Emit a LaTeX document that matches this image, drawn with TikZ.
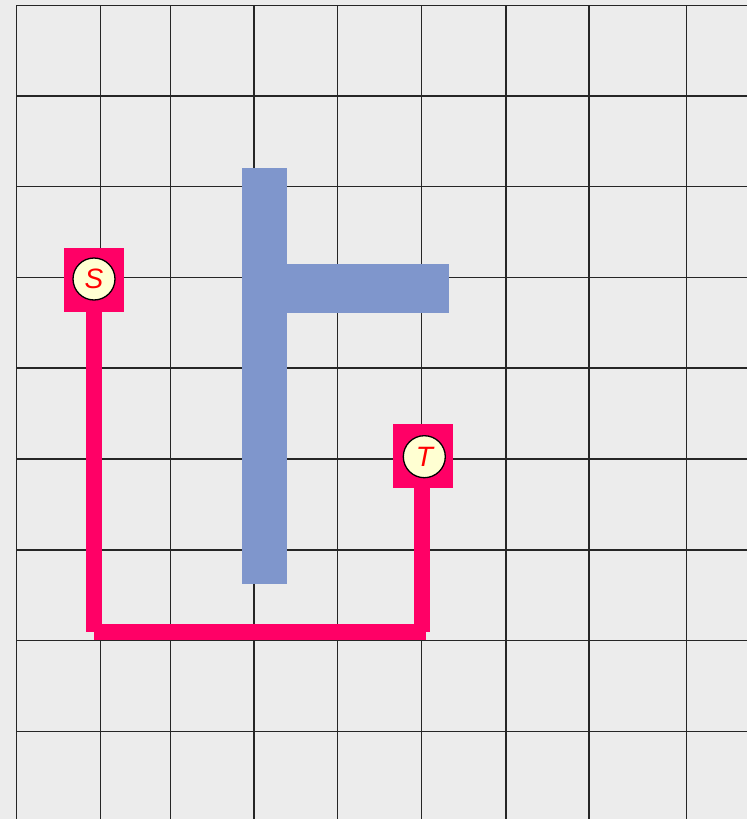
\documentclass[tikz,border=0pt]{standalone}
\usepackage{fontspec}
\setmainfont{Liberation Sans}
\begin{document}
\begin{tikzpicture}[x=1pt,y=-1pt,
  gridline/.style={black!85,line width=1.3pt},
  wall/.style={fill=wallblue,draw=none},
  endbox/.style={rectangle,fill=pathred,draw=none,minimum width=60pt,minimum height=64pt,inner sep=0pt},
  endcirc/.style={circle,fill=circfill,draw=black,line width=1.3pt,minimum size=42pt,inner sep=0pt,text=red,font=\fontsize{28}{28}\selectfont\itshape},
  route/.style={pathred,line width=16pt}]
\definecolor{bg}{HTML}{ECECEC}
\definecolor{pathred}{HTML}{FF0066}
\definecolor{wallblue}{HTML}{7F96CC}
\definecolor{circfill}{HTML}{FFFFD2}
\useasboundingbox (0,0) rectangle (747,819);
\fill[bg] (0,0) rectangle (747,819);
\begin{scope}
\clip (0,0) rectangle (747,819);
\foreach \x in {16.7,100.3,170.5,254,337.7,421.7,506,589,686.7}
  \draw[gridline] (\x,5.3) -- (\x,819);
\foreach \y in {5.3,96,186.7,277.5,368,459,550,640.7,731.3}
  \draw[gridline] (16.7,\y) -- (747,\y);
\end{scope}
% walls
\fill[wall] (242,168) rectangle (287,584);
\fill[wall] (287,264) rectangle (449,313);
% route
\node[endbox] (Sbox) at (94,280) {};
\node[endbox] (Tbox) at (423,456) {};
\coordinate (b1) at (94,632);
\coordinate (b2) at (422,632);
\coordinate (b2e) at (426,632);
\draw[route] (Sbox.south) -- (b1);
\draw[route] (b1) -- (b2e);
\draw[route] (Tbox.south -| b2) -- (b2);
\node[endcirc] (S) at (94,279) {S};
\node[endcirc] (T) at (424.3,456.7) {T};
\end{tikzpicture}
\end{document}
